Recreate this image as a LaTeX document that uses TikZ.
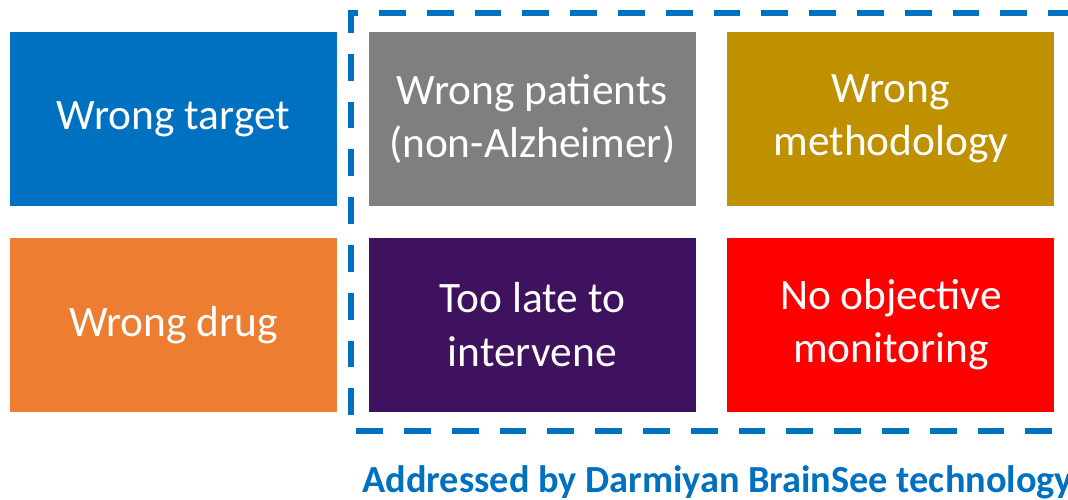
\documentclass[tikz,border=0pt]{standalone}
\usepackage{fontspec}
\setmainfont{Carlito}
\usetikzlibrary{positioning}
\definecolor{cblue}{HTML}{0070C0}
\definecolor{corange}{HTML}{ED7D31}
\definecolor{cgray}{HTML}{7F7F7F}
\definecolor{cgold}{HTML}{BF9000}
\definecolor{cpurple}{HTML}{3F1260}
\definecolor{cred}{HTML}{FF0000}
\tikzstyle{cause}=[minimum width=6.54cm, minimum height=3.48cm, inner sep=0pt,
  text=white, align=center, font=\fontsize{24.7}{30.5}\selectfont]
\tikzstyle{highlight box}=[draw=cblue, line width=3.7pt, dash pattern=on 15.3pt off 11.9pt]

\begin{document}
\begin{tikzpicture}[node distance=0.62cm]
          \useasboundingbox (0, 0) rectangle (21.36, 10);

          \node[cause, fill=cblue] (target) at (3.47, 7.62) {Wrong target};
          \node[cause, fill=corange, below=of target] (drug) {Wrong drug};
          \node[cause, fill=cgray, right=of target] (patients) {Wrong patients\\(non-Alzheimer)};
          \node[cause, fill=cgold, right=of patients] (method) {Wrong\\methodology};
          \node[cause, fill=cpurple, right=of drug] (late) {Too late to\\intervene};
          \node[cause, fill=cred, right=of late] (monitor) {No objective\\monitoring};

          \coordinate (ne) at (21.5, 9.74);
          \coordinate (nw) at (7.02, 9.74);
          \coordinate (sw) at (7.02, 1.38);
          \coordinate (se) at (21.5, 1.38);
          \draw[highlight box] (ne) -- (nw) -- (sw) -- (se);

          \node[anchor=base west, text=cblue, inner sep=0pt,
            font=\fontsize{21.8}{26}\selectfont\bfseries] (caption) at (7.24, 0.14)
            {Addressed by Darmiyan BrainSee technology};
        \end{tikzpicture}
\end{document}
